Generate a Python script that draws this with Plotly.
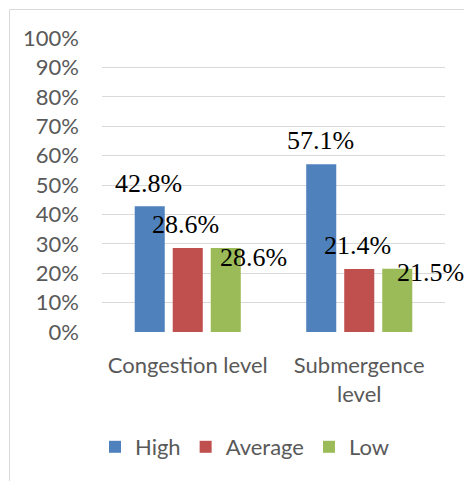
import plotly.graph_objects as go

categories = ["Congestion level", "Submergence<br>level"]
series_names = ["High", "Average", "Low"]
high = [0.428, 0.571]
average = [0.286, 0.214]
low = [0.286, 0.215]
label_texts = [["42.8%", "57.1%"], ["28.6%", "21.4%"], ["28.6%", "21.5%"]]
y_ticks = [i / 10 for i in range(11)]

colors = ["#4f81bd", "#c0504d", "#9bbb59"]
values = [high, average, low]

# label offsets in px (dx, dy) relative to bar top-center
label_dx = [[-1, -1], [-2, -2], [28, 33]]
label_dy = [[23, 24], [23, 24], [-10, -4]]
bar_shift = [-38, 0, 38]

fig = go.Figure()
for name, vals, col in zip(series_names, values, colors):
    fig.add_trace(go.Bar(x=categories, y=vals, name=name, marker_color=col,
                         marker_line_width=0))

SERIF = "Liberation Serif, Times New Roman, serif"
annotations = []
for s in range(3):
    for c in range(2):
        annotations.append(dict(
            x=c, y=values[s][c], xref="x", yref="y",
            text=label_texts[s][c], showarrow=False,
            xshift=bar_shift[s] + label_dx[s][c], yshift=label_dy[s][c],
            font=dict(family=SERIF, size=26, color="#000000"),
            xanchor="center", yanchor="middle"))

L, R, T, B = 102, 19, 38, 149
W, H = 464, 481
pw, ph = W - L - R, H - T - B
fx = lambda px: (px - L) / pw
fy = lambda py: (H - B - py) / ph

shapes = [
    dict(type="line", xref="paper", yref="paper", x0=fx(9.5), x1=fx(464),
         y0=fy(9.5), y1=fy(9.5), line=dict(color="#d9d9d9", width=1)),
    dict(type="line", xref="paper", yref="paper", x0=fx(9.5), x1=fx(9.5),
         y0=fy(9.5), y1=fy(481), line=dict(color="#d9d9d9", width=1)),
]

fig.update_layout(
    width=W, height=H, autosize=False,
    margin=dict(l=L, r=R, t=T, b=B, pad=0, autoexpand=False),
    paper_bgcolor="white", plot_bgcolor="white",
    barmode="group", bargap=0.335, bargroupgap=0.21,
    font=dict(family="Lato", size=22, color="#595959"),
    showlegend=True,
    legend=dict(orientation="h", x=fx(245), xanchor="center", y=fy(447), yanchor="middle",
                font=dict(family="Lato", size=22, color="#595959"), traceorder="normal"),
    annotations=annotations,
    shapes=shapes,
    yaxis=dict(range=[0, 1], tickvals=y_ticks, tickformat=".0%", showgrid=True,
               gridcolor="#d9d9d9", gridwidth=1, zeroline=False, showline=False,
               ticklabelstandoff=22, automargin=False, fixedrange=True),
    xaxis=dict(type="category", range=[-0.5, 1.5], showline=False, showgrid=False,
               ticklabelstandoff=18, automargin=False, fixedrange=True),
)

fig.write_html("out.html", config={"responsive": False})
